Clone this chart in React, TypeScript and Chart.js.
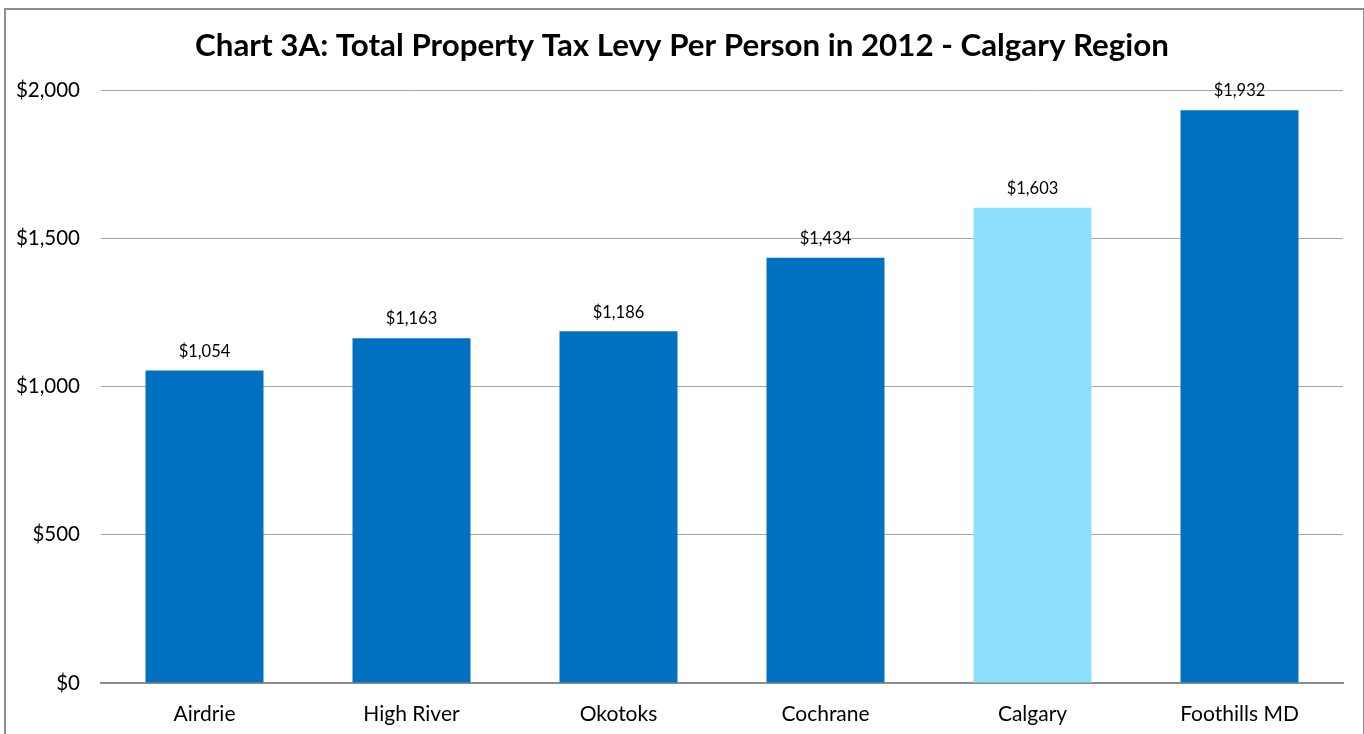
import React, { useEffect, useRef } from "react";
import { Chart, registerables } from "chart.js";

Chart.register(...registerables);

const categories = ["Airdrie", "High River", "Okotoks", "Cochrane", "Calgary", "Foothills MD"];
const levyPerPerson = [1054, 1163, 1186, 1434, 1603, 1932];
const barColors = ["#0070C0", "#0070C0", "#0070C0", "#0070C0", "#8EDFFD", "#0070C0"];
const yTicks = [0, 500, 1000, 1500, 2000];
const titleText = "Chart 3A: Total Property Tax Levy Per Person in 2012 - Calgary Region";

const FONT = "Lato, 'Open Sans', sans-serif";

const fmt = (v: number) => "$" + v.toLocaleString("en-US");

const valueLabels = {
  id: "valueLabels",
  afterDatasetsDraw(chart: any) {
    const ctx = chart.ctx;
    const meta = chart.getDatasetMeta(0);
    ctx.save();
    ctx.font = `16.5px ${FONT}`;
    ctx.fillStyle = "#000";
    ctx.textAlign = "center";
    ctx.textBaseline = "middle";
    meta.data.forEach((bar: any, i: number) => {
      ctx.fillText(fmt(levyPerPerson[i]), bar.x, bar.y - 19);
    });
    ctx.restore();
  },
};

const centeredTitle = {
  id: "centeredTitle",
  afterDraw(chart: any) {
    const ctx = chart.ctx;
    ctx.save();
    ctx.font = `bold 31.3px ${FONT}`;
    ctx.fillStyle = "#000";
    ctx.textAlign = "center";
    ctx.textBaseline = "middle";
    ctx.fillText(titleText, chart.width / 2, 46);
    ctx.restore();
  },
};

export default function App() {
  const ref = useRef<HTMLCanvasElement>(null);
  useEffect(() => {
    if (!ref.current) return;
    const chart = new Chart(ref.current, {
      type: "bar",
      data: {
        labels: categories,
        datasets: [
          {
            data: levyPerPerson,
            backgroundColor: barColors,
            categoryPercentage: 1,
            barPercentage: 0.57,
          },
        ],
      },
      options: {
        animation: false,
        responsive: false,
        layout: { padding: { left: 0, right: 21, top: 90, bottom: 0 } },
        plugins: {
          legend: { display: false },
          tooltip: { enabled: false },
          title: { display: false },
        },
        scales: {
          x: {
            grid: { display: false },
            border: { display: true, color: "#8c8c8c", width: 2 },
            ticks: { color: "#000", font: { family: FONT, size: 21 }, padding: 11 },
            afterFit(scale: any) {
              scale.height = 51;
            },
          },
          y: {
            min: 0,
            max: 2000,
            afterBuildTicks(scale: any) {
              scale.ticks = yTicks.map((v) => ({ value: v }));
            },
            grid: { color: "#a6a6a6", lineWidth: 1, drawTicks: false },
            border: { display: false },
            ticks: {
              color: "#000",
              font: { family: FONT, size: 20.5 },
              padding: 21,
              callback: (v: any) => fmt(Number(v)),
            },
            afterFit(scale: any) {
              scale.width = 101;
            },
          },
        },
      },
      plugins: [valueLabels, centeredTitle],
    });
    return () => chart.destroy();
  }, []);
  return (
    <div style={{ position: "fixed", left: 0, top: 0, width: 1364, height: 734, overflow: "hidden", background: "#fff" }}>
      <canvas ref={ref} width={1364} height={734} style={{ position: "absolute", left: 0, top: 0 }} />
      <div
        style={{
          position: "absolute",
          left: 4,
          top: 8,
          width: 1357,
          height: 800,
          border: "2px solid #8f8f8f",
          pointerEvents: "none",
        }}
      />
    </div>
  );
}
